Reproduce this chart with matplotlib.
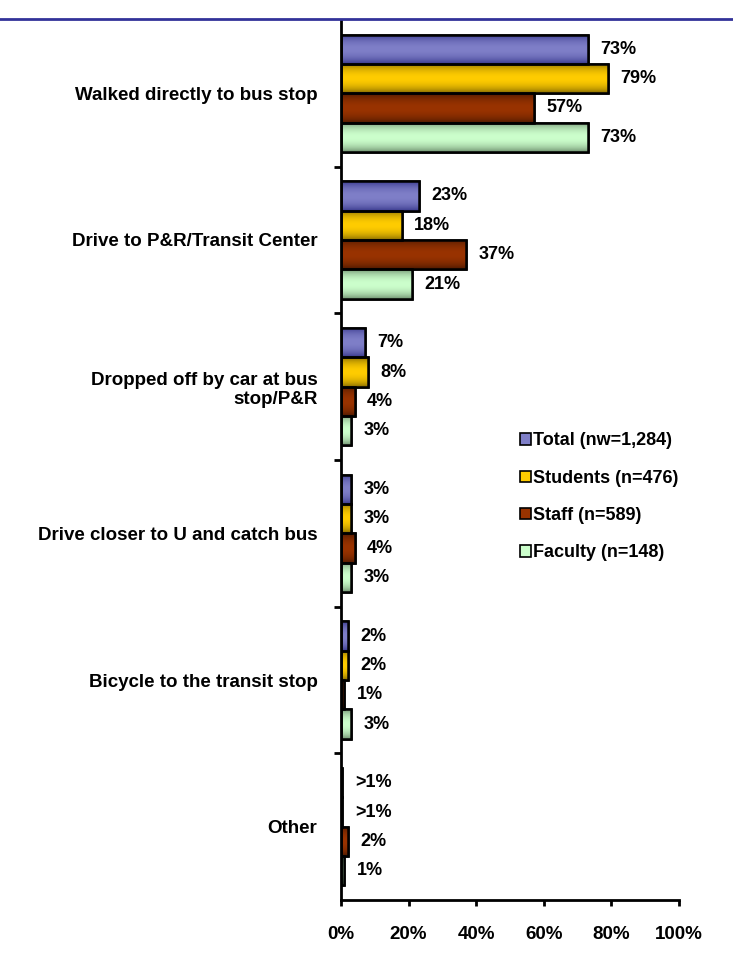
import numpy as np
import matplotlib
matplotlib.use("Agg")
import matplotlib.pyplot as plt
from matplotlib.colors import to_rgb
from matplotlib.lines import Line2D
from matplotlib.patches import Patch

plt.rcParams['font.family'] = ['Liberation Sans', 'DejaVu Sans']

categories = ["Walked directly to bus stop", "Drive to P&R/Transit Center",
              "Dropped off by car at bus\nstop/P&R", "Drive closer to U and catch bus",
              "Bicycle to the transit stop", "Other"]
series = ["Total (nw=1,284)", "Students (n=476)", "Staff (n=589)", "Faculty (n=148)"]
total = [73, 23, 7, 3, 2, 0.4]
students = [79, 18, 8, 3, 2, 0.4]
staff = [57, 37, 4, 4, 1, 2]
faculty = [73, 21, 3, 3, 3, 1]
total_lbl = ["73%", "23%", "7%", "3%", "2%", ">1%"]
students_lbl = ["79%", "18%", "8%", "3%", "2%", ">1%"]
staff_lbl = ["57%", "37%", "4%", "4%", "1%", "2%"]
faculty_lbl = ["73%", "21%", "3%", "3%", "3%", "1%"]
xticks = [0, 20, 40, 60, 80, 100]

light = ["#7F7FC8", "#FFCC00", "#993300", "#CCFFCC"]
dark = ["#333388", "#806600", "#4A1800", "#6A8A6A"]

W, H = 733, 955
fig = plt.figure(figsize=(W / 100, H / 100), dpi=100)
fig.add_artist(Line2D([0, 1], [1 - 19 / H, 1 - 19 / H], color="#333399", lw=2))

ax = fig.add_axes([341 / W, 1 - 900 / H, (679 - 341) / W, (900 - 20) / H])

vals_all = [total, students, staff, faculty]
lbls_all = [total_lbl, students_lbl, staff_lbl, faculty_lbl]
offsets = [-0.3, -0.1, 0.1, 0.3]
bh = 0.2
t = np.linspace(0, 1, 64)
w = np.sin(np.pi * t) ** 0.7

for s in range(4):
    lo = np.array(to_rgb(light[s]))
    dk = np.array(to_rgb(dark[s]))
    grad = dk[None, :] + (lo - dk)[None, :] * w[:, None]
    img = grad[:, None, :]
    ys = [i + 0.5 + offsets[s] for i in range(len(categories))]
    bars = ax.barh(ys, vals_all[s], height=bh, color=light[s], edgecolor="black",
                   linewidth=1.8, zorder=2)
    for b, v, lb, y in zip(bars, vals_all[s], lbls_all[s], ys):
        im = ax.imshow(img, extent=[0, v, y + bh / 2, y - bh / 2], aspect="auto",
                       zorder=2.5, interpolation="bilinear")
        im.set_clip_path(b)
        ax.barh([y], [v], height=bh, fill=False, edgecolor="black", linewidth=1.8, zorder=3)
        ax.annotate(lb, (v, y), xytext=(9, 0), textcoords="offset points",
                    va="center", ha="left", fontsize=13, fontweight="bold")

ax.set_xlim(0, 100)
ax.set_ylim(6, 0)
ax.set_yticks([i + 0.5 for i in range(len(categories))])
ax.set_yticklabels(categories, fontsize=13.5, fontweight="bold")
ax.set_yticks([1, 2, 3, 4, 5], minor=True)
ax.tick_params(axis="y", which="major", length=0, pad=17)
ax.tick_params(axis="y", which="minor", length=5, width=2, direction="out")
ax.set_xticks(xticks)
ax.set_xticklabels([f"{x}%" for x in xticks], fontsize=13.5, fontweight="bold")
ax.tick_params(axis="x", length=4, width=2, direction="out", pad=15)
for sp in ["top", "right"]:
    ax.spines[sp].set_visible(False)
for sp in ["left", "bottom"]:
    ax.spines[sp].set_linewidth(2)

handles = [Patch(facecolor=light[i], edgecolor="black", linewidth=1.2) for i in range(4)]
fig.legend(handles, series, loc="upper left", bbox_to_anchor=(504 / W, 1 - 416 / H),
           frameon=False, handlelength=0.6, handleheight=0.6, handletextpad=0.1,
           labelspacing=1.13, prop={"weight": "bold", "size": 13})

fig.savefig("out.png", dpi=100)
